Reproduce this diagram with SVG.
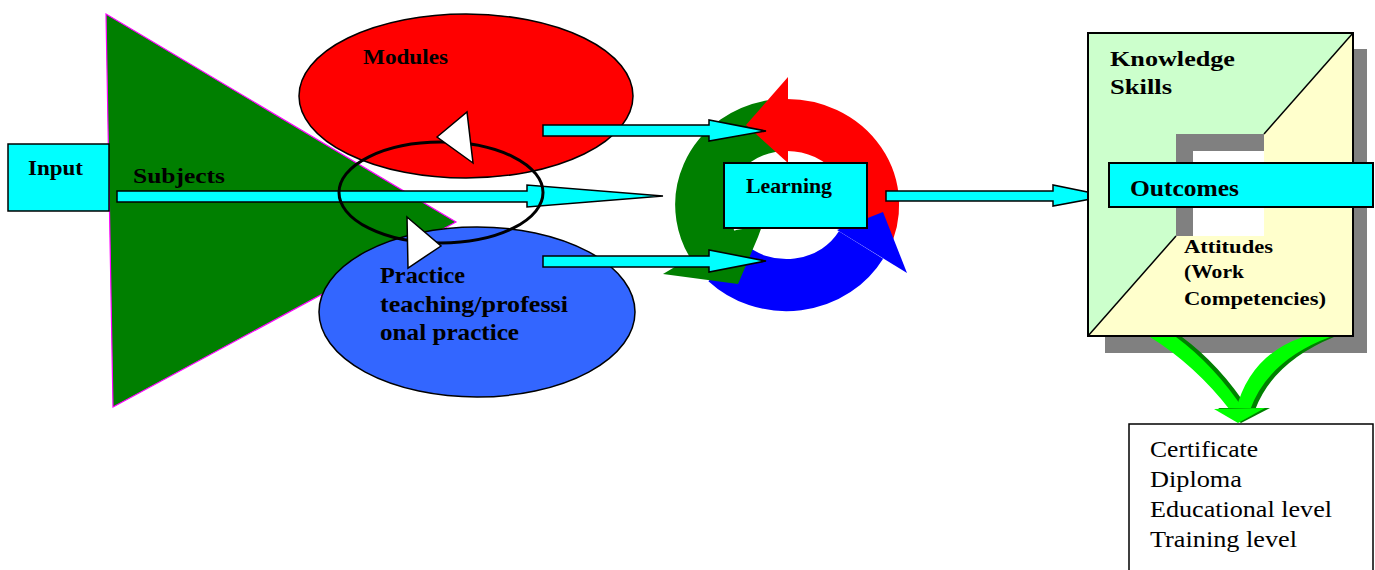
<svg xmlns="http://www.w3.org/2000/svg" width="1375" height="570" viewBox="0 0 1375 570">
<style>
text{font-family:'Liberation Serif','Times New Roman',serif}
.lbl{font-weight:bold;fill:#000}
.reg{fill:#000}
.cy{fill:#00FFFF;stroke:#000;stroke-width:1.5}
.band{fill:none;stroke-width:52}
</style>
<rect width="1375" height="570" fill="#fff"/>

<g id="triangle">
<polygon points="106,14 456,222 113,407" fill="#007F00" stroke="#FF00FF" stroke-width="1.2"/>
</g>
<g id="input">
<rect x="8" y="144" width="101" height="67" class="cy"/>
<text x="28" y="175" class="lbl" font-family="Liberation Serif" font-size="22" textLength="55" lengthAdjust="spacingAndGlyphs">Input</text>
</g>
<g id="modules">
<ellipse cx="466" cy="96" rx="167" ry="82" fill="#FF0000" stroke="#000" stroke-width="1.5"/>
<text x="363" y="64" class="lbl" font-family="Liberation Serif" font-size="21" textLength="85" lengthAdjust="spacingAndGlyphs">Modules</text>
</g>
<g id="practice">
<ellipse cx="477" cy="312" rx="158" ry="85" fill="#3366FF" stroke="#000" stroke-width="1.5"/>
<text x="380" y="283" class="lbl" font-family="Liberation Serif" font-size="23" textLength="85" lengthAdjust="spacingAndGlyphs">Practice</text>
<text x="380" y="312" class="lbl" font-family="Liberation Serif" font-size="23" textLength="188" lengthAdjust="spacingAndGlyphs">teaching/professi</text>
<text x="380" y="340" class="lbl" font-family="Liberation Serif" font-size="23" textLength="139" lengthAdjust="spacingAndGlyphs">onal practice</text>
</g>

<g id="cycle">
<path class="band" stroke="#007F00" d="M772,126 A86,80 0 0 0 717,251"/>
<path class="band" stroke="#FF0000" d="M865,239 A86,80 0 0 0 787,125"/>
<polygon points="788,77 788,163 746,125" fill="#FF0000"/>
<path class="band" stroke="#0000FF" d="M726,262 A86,80 0 0 0 861,245"/>
<polygon points="837,230 907,273 883,212" fill="#0000FF"/>
<polygon points="663,274 700,252 736,230 762,226 758,237 738,284" fill="#007F00"/>
</g>

<g id="shadow">
<rect x="1105" y="49" width="262" height="304" fill="#808080"/>
</g>

<g id="connectors">
<polygon class="cy" points="117,191 527,191 527,185 663,196 527,207 527,202 117,202"/>
<polygon class="cy" points="543,125 709,125 709,120 766,131 709,141 709,136 543,136"/>
<polygon class="cy" points="543,256 709,256 709,250 766,261 709,272 709,267 543,267"/>
<polygon class="cy" points="886,191 1053,191 1053,185 1107,196 1053,206 1053,201 886,201"/>
<ellipse cx="441" cy="192.5" rx="102" ry="50.5" fill="none" stroke="#000" stroke-width="3"/>
<polygon points="437,137 467,112 473,163" fill="#fff" stroke="#000" stroke-width="1.5"/>
<polygon points="407,217 441,246 408,268" fill="#fff" stroke="#000" stroke-width="1.5"/>
<g id="fork">
<path fill="#008000" d="M1155,337 L1182,337 Q1220,365 1249,410 L1235,410 Q1200,365 1155,337 Z"/>
<path fill="#00FF00" d="M1150,337 L1176,337 Q1214,365 1244,410 L1230,410 Q1195,365 1150,337 Z"/>
<path fill="#008000" d="M1307,337 L1334,337 Q1273,362 1255,410 L1241,410 Q1255,357 1307,337 Z"/>
<path fill="#00FF00" d="M1303,337 L1330,337 Q1268,360 1250,410 L1236,410 Q1250,355 1303,337 Z"/>
<polygon points="1218,408 1270,408 1241,423" fill="#008000"/>
<polygon points="1214,409 1265,408 1238,423" fill="#00FF00"/>
</g>
</g>

<g id="learning">
<rect x="724" y="163" width="143" height="65" fill="#00FFFF" stroke="#000" stroke-width="2"/>
<text x="746" y="193" class="lbl" font-family="Liberation Serif" font-size="21" textLength="86" lengthAdjust="spacingAndGlyphs">Learning</text>
</g>

<g id="outcomes-square">
<polygon points="1088,33 1353,33 1264,134 1176,134 1176,236 1088,336" fill="#CCFFCC"/>
<polygon points="1353,33 1353,336 1088,336 1176,236 1264,236 1264,134" fill="#FFFFCC"/>
<rect x="1176" y="134" width="88" height="102" fill="#808080"/>
<rect x="1193" y="151" width="71" height="85" fill="#fff"/>
<rect x="1088" y="33" width="265" height="303" fill="none" stroke="#000" stroke-width="2"/>
<line x1="1353" y1="33" x2="1264" y2="134" stroke="#000" stroke-width="1.5"/>
<line x1="1088" y1="336" x2="1176" y2="236" stroke="#000" stroke-width="1.5"/>
<text x="1110" y="66" class="lbl" font-family="Liberation Serif" font-size="22" textLength="125" lengthAdjust="spacingAndGlyphs">Knowledge</text>
<text x="1110" y="94" class="lbl" font-family="Liberation Serif" font-size="22" textLength="62" lengthAdjust="spacingAndGlyphs">Skills</text>
<text x="1184" y="253" class="lbl" font-family="Liberation Serif" font-size="19" textLength="89" lengthAdjust="spacingAndGlyphs">Attitudes</text>
<text x="1184" y="278" class="lbl" font-family="Liberation Serif" font-size="19" textLength="60" lengthAdjust="spacingAndGlyphs">(Work</text>
<text x="1184" y="305" class="lbl" font-family="Liberation Serif" font-size="19" textLength="142" lengthAdjust="spacingAndGlyphs">Competencies)</text>
</g>
<g id="outcomes">
<rect x="1109" y="163" width="264" height="44" fill="#00FFFF" stroke="#000" stroke-width="2"/>
<text x="1130" y="196" class="lbl" font-family="Liberation Serif" font-size="23" textLength="109" lengthAdjust="spacingAndGlyphs">Outcomes</text>
</g>

<g id="subjects-label">
<text x="133" y="183" class="lbl" font-family="Liberation Serif" font-size="22" textLength="92" lengthAdjust="spacingAndGlyphs">Subjects</text>
</g>

<g id="results">
<rect x="1129" y="424" width="244" height="160" fill="#fff" stroke="#000" stroke-width="1.5"/>
<text x="1150" y="457" class="reg" font-family="Liberation Serif" font-size="23" textLength="108" lengthAdjust="spacingAndGlyphs">Certificate</text>
<text x="1150" y="487" class="reg" font-family="Liberation Serif" font-size="23" textLength="92" lengthAdjust="spacingAndGlyphs">Diploma</text>
<text x="1150" y="517" class="reg" font-family="Liberation Serif" font-size="23" textLength="182" lengthAdjust="spacingAndGlyphs">Educational level</text>
<text x="1150" y="547" class="reg" font-family="Liberation Serif" font-size="23" textLength="147" lengthAdjust="spacingAndGlyphs">Training level</text>
</g>
</svg>
